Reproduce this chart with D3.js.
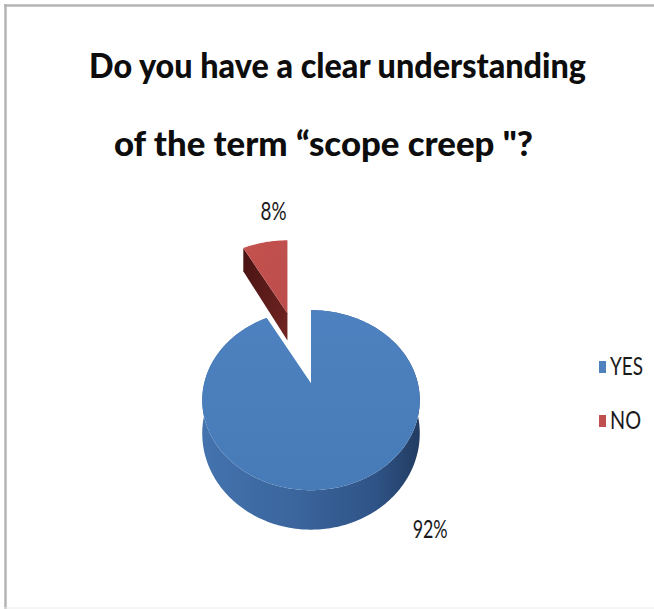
<!DOCTYPE html>
<html>
<head>
<meta charset="utf-8">
<script src="https://cdn.jsdelivr.net/npm/d3@7"></script>
<style>
  html, body { margin: 0; padding: 0; background: #fff; }
  svg { display: block; }
</style>
</head>
<body>
<script>
// ---- data ----
const categories = ["YES", "NO"];
const values = [92, 8];
const valueLabels = ["92%", "8%"];
const titleLines = ["Do you have a clear understanding", "of the term \u201cscope creep \"?"];

// ---- layout / style ----
const W = 654, H = 609;
const keyColors  = { YES: "#4f81bd", NO: "#c0504d" };
const explode    = { YES: 0, NO: 0.98 };          // fraction of radius
const labelAngle = { YES: 146.4, NO: 353.7 };     // degrees, clockwise from 12 o'clock
const labelRadius = 1.53;

// perspective view of the pie plane (radius 1 in plane units)
const view = { cx: 311, horizon: -76, focal: 2429, spread: 565, dist: 5.29, thick: 32 };
function project(angle, r, down) {
  const x = r * Math.sin(angle), z = -r * Math.cos(angle);
  const k = 1 / (view.dist - z);
  return [view.cx + view.spread * x * k,
          view.horizon + view.focal * k + down * view.thick * view.dist * k];
}

const svg = d3.select("body").append("svg").attr("width", W).attr("height", H);
const defs = svg.append("defs");

function linGrad(id, x1, y1, x2, y2, stops) {
  const g = defs.append("linearGradient").attr("id", id)
    .attr("x1", x1).attr("y1", y1).attr("x2", x2).attr("y2", y2);
  stops.forEach(([o, c]) => g.append("stop").attr("offset", o).attr("stop-color", c));
}
linGrad("wallYES", "0%", "0%", "100%", "0%",
  [["0%", "#4473ad"], ["45%", "#3a649c"], ["80%", "#2f5386"], ["100%", "#223c62"]]);
linGrad("topYES", "0%", "0%", "0%", "100%", [["0%", "#4d81bf"], ["100%", "#477bb8"]]);
linGrad("topNO", "0%", "0%", "100%", "100%", [["0%", "#c4524f"], ["100%", "#bb4d4a"]]);
linGrad("faceNO", "0%", "0%", "100%", "100%", [["0%", "#461312"], ["100%", "#722523"]]);

// ---- frame ----
svg.append("line").attr("x1", 4).attr("x2", W).attr("y1", 5.5).attr("y2", 5.5)
  .attr("stroke", "#b4b4b4").attr("stroke-width", 2.5);
svg.append("line").attr("x1", 5.5).attr("x2", 5.5).attr("y1", 4).attr("y2", H)
  .attr("stroke", "#b4b4b4").attr("stroke-width", 2.5);
svg.append("line").attr("x1", 4).attr("x2", W).attr("y1", 608).attr("y2", 608)
  .attr("stroke", "#ececec").attr("stroke-width", 1);

// ---- title ----
const titleSpec = [{ x: 89, y: 78, len: 497 }, { x: 114, y: 156, len: 419 }];
svg.selectAll("text.title").data(titleLines).join("text")
  .attr("class", "title")
  .attr("x", (d, i) => titleSpec[i].x)
  .attr("y", (d, i) => titleSpec[i].y)
  .attr("textLength", (d, i) => titleSpec[i].len)
  .attr("lengthAdjust", "spacingAndGlyphs")
  .attr("font-family", "Lato, 'Open Sans', sans-serif")
  .attr("font-weight", "900")
  .attr("font-size", 35)
  .attr("fill", "#0d0d0d")
  .text(d => d);

// ---- pie ----
const table = categories.map((c, i) => ({ cat: c, value: values[i], label: valueLabels[i] }));
const arcs = d3.pie().sort(null).value(d => d.value)(table);
const line = d3.line();
const origin = project(0, 0, 0);

const slices = arcs.map(a => {
  const mid = (a.startAngle + a.endAngle) / 2;
  const e = explode[a.data.cat];
  const p = project(mid, e, 0);
  // a slice pushed back looks a little thinner
  const depth = view.dist / (view.dist + e * Math.cos(mid));
  return { arc: a, mid, depth, dx: p[0] - origin[0] - (e > 0 ? 1.5 : 0), dy: p[1] - origin[1] };
});

function arcPoints(a0, a1, down) {
  const n = Math.max(2, Math.ceil((a1 - a0) / (Math.PI / 180)));
  return d3.range(n + 1).map(i => project(a0 + (a1 - a0) * i / n, 1, down));
}

const pieG = svg.append("g");

// slices further back are drawn first
slices.slice().sort((a, b) => a.dy - b.dy).forEach(s => {
  const a = s.arc, cat = a.data.cat;
  const g = pieG.append("g").attr("transform", `translate(${s.dx},${s.dy})`);
  const top = arcPoints(a.startAngle, a.endAngle, 0);
  const bottom = arcPoints(a.startAngle, a.endAngle, s.depth);

  if (cat === "YES") {
    // outer wall
    g.append("path")
      .attr("d", line(top.concat(bottom.slice().reverse())) + "Z")
      .attr("fill", "url(#wallYES)");
  } else {
    // cut face at the start angle, turned toward the viewer
    const c0 = project(0, 0, 0), c1 = project(0, 0, s.depth);
    const r0 = project(a.startAngle, 1, 0), r1 = project(a.startAngle, 1, s.depth);
    g.append("path")
      .attr("d", line([c0, r0, r1, c1]) + "Z")
      .attr("fill", "url(#faceNO)");
  }
  // top face
  g.append("path")
    .attr("d", line([project(0, 0, 0)].concat(top)) + "Z")
    .attr("fill", cat === "YES" ? "url(#topYES)" : "url(#topNO)");
});

// ---- value labels ----
const labelFont = "Lato, 'Open Sans', sans-serif";
const labelLen = { YES: 35, NO: 26 };
slices.forEach(s => {
  const cat = s.arc.data.cat;
  const p = project(labelAngle[cat] * Math.PI / 180, labelRadius, 0);
  svg.append("text")
    .attr("x", p[0] + s.dx)
    .attr("y", p[1] + s.dy + 9)
    .attr("text-anchor", "middle")
    .attr("textLength", labelLen[cat])
    .attr("lengthAdjust", "spacingAndGlyphs")
    .attr("font-family", labelFont)
    .attr("font-size", 25)
    .attr("fill", "#1a1a1a")
    .text(s.arc.data.label);
});

// ---- legend ----
const legendY = d3.scalePoint().domain(categories).range([367, 421]);
const legend = svg.append("g").selectAll("g").data(categories).join("g")
  .attr("transform", d => `translate(599,${legendY(d)})`);
legend.append("rect")
  .attr("x", 0).attr("y", -6).attr("width", 7).attr("height", 12)
  .attr("fill", d => keyColors[d]);
legend.append("text")
  .attr("x", 11).attr("y", 8)
  .attr("textLength", d => d === "YES" ? 33 : 31)
  .attr("lengthAdjust", "spacingAndGlyphs")
  .attr("font-family", labelFont)
  .attr("font-size", 25)
  .attr("fill", "#1a1a1a")
  .text(d => d);
</script>
</body>
</html>
